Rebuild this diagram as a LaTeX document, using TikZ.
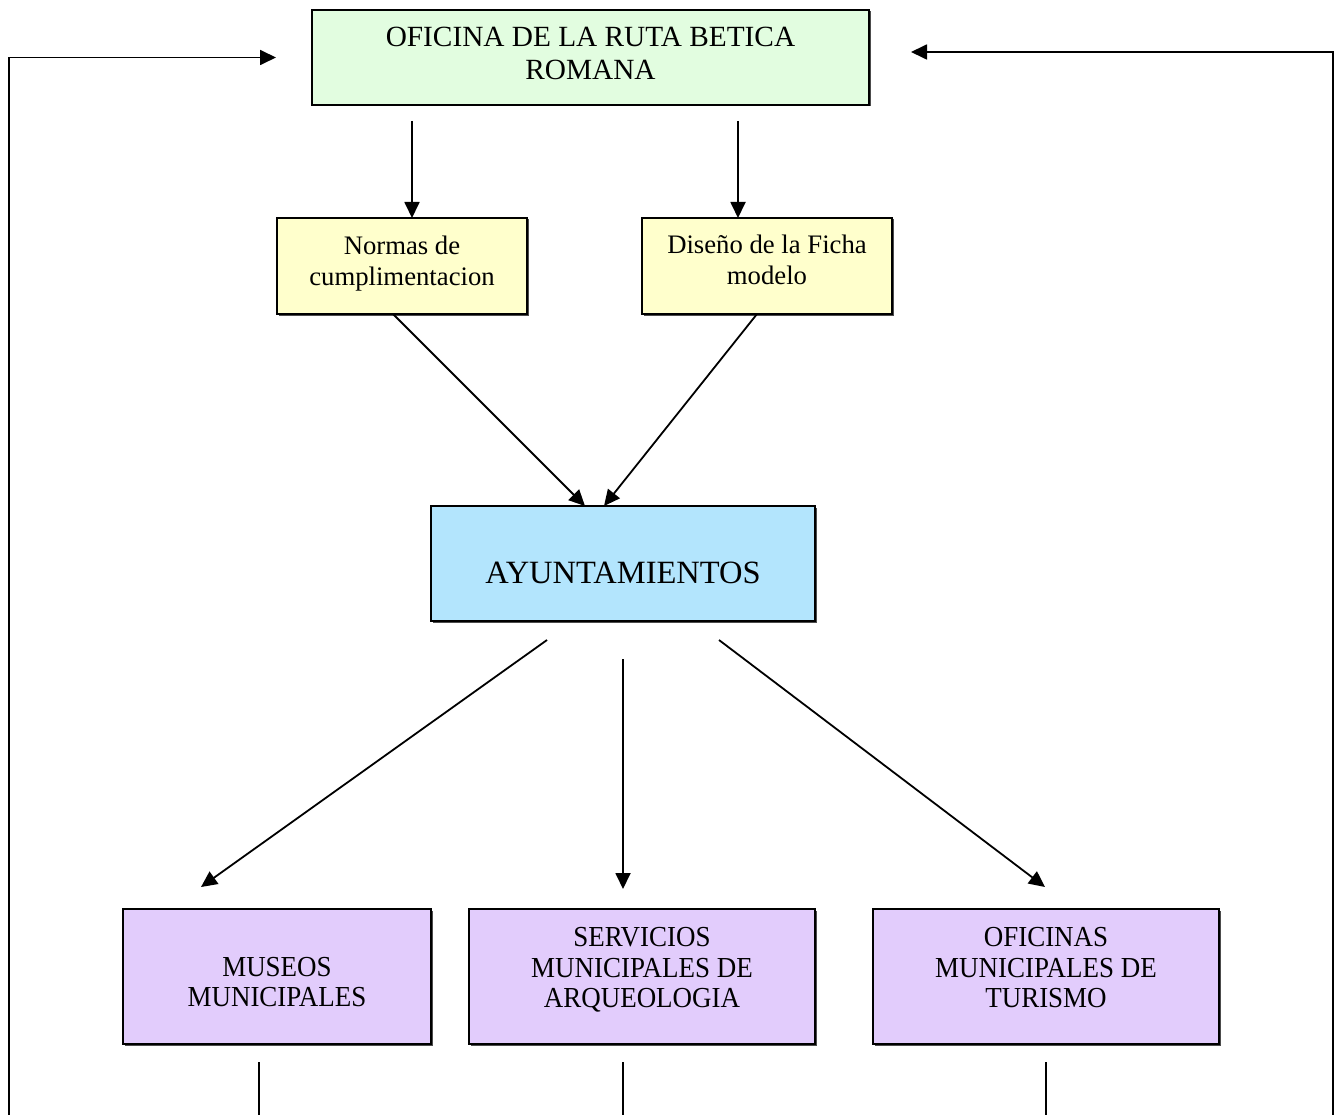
\documentclass[tikz,border=0pt]{standalone}
\usepackage{fontspec}
\setmainfont{Liberation Serif}
\newfontfamily\condserif[FakeStretch=0.93]{Liberation Serif}
\usetikzlibrary{arrows.meta,shadows}
\definecolor{topgreen}{RGB}{226,253,224}
\definecolor{boxyellow}{RGB}{255,255,204}
\definecolor{boxblue}{RGB}{179,229,253}
\definecolor{boxpurple}{RGB}{226,204,252}
\tikzset{
  box/.style={draw=black, line width=1.8pt, inner sep=0pt, outer sep=0pt,
    drop shadow={shadow xshift=1.5pt, shadow yshift=-1.5pt, fill=black!70, opacity=1}},
  txt/.style={align=center, inner sep=0pt},
  arr/.style={line width=1.8pt, -{Triangle[length=16pt,width=15pt]}},
  ln/.style={line width=1.8pt}
}
\begin{document}
\begin{tikzpicture}[x=1pt,y=-1pt]
\useasboundingbox (0,0) rectangle (1335,1115);
% boxes
\node[box, fill=topgreen, minimum width=557, minimum height=95] (top) at (590.5,57.5) {};
\node[txt, font=\fontsize{29.3}{33}\selectfont] (topt) at ([yshift=4]top.center) {OFICINA DE LA RUTA BETICA\\ROMANA};
\node[box, fill=boxyellow, minimum width=250, minimum height=96] (n1) at (402,266) {};
\node[txt, font=\fontsize{26.7}{31}\selectfont] (n1t) at ([yshift=2]n1.center) {Normas de\\cumplimentacion};
\node[box, fill=boxyellow, minimum width=250, minimum height=96] (n2) at (767,266) {};
\node[txt, font=\fontsize{26.7}{31}\selectfont] (n2t) at ([yshift=6]n2.center) {Diseño de la Ficha\\modelo};
\node[box, fill=boxblue, minimum width=384, minimum height=115] (ayu) at (623,563.5) {};
\node[txt, font=\fontsize{32.5}{36}\selectfont] (ayut) at ([yshift=-9.5]ayu.center) {AYUNTAMIENTOS};
\node[box, fill=boxpurple, minimum width=308, minimum height=135] (m1) at (277,976.5) {};
\node[txt, font=\condserif\fontsize{29}{30.5}\selectfont] (m1t) at ([yshift=-5.5]m1.center) {MUSEOS\\MUNICIPALES};
\node[box, fill=boxpurple, minimum width=346, minimum height=135] (m2) at (642,976.5) {};
\node[txt, font=\condserif\fontsize{29}{30.5}\selectfont] (m2t) at ([yshift=6.5]m2.center) {SERVICIOS\\MUNICIPALES DE\\ARQUEOLOGIA};
\node[box, fill=boxpurple, minimum width=346, minimum height=135] (m3) at (1046,976.5) {};
\node[txt, font=\condserif\fontsize{29}{30.5}\selectfont] (m3t) at ([yshift=8.5]m3.center) {OFICINAS\\MUNICIPALES DE\\TURISMO};
% arrows top -> yellow
\draw[arr] ([xshift=10,yshift=-16]n1.north |- top.south) -- ([xshift=10]n1.north);
\draw[arr] ([xshift=-29,yshift=-16]n2.north |- top.south) -- ([xshift=-29]n2.north);
% yellow -> ayuntamientos
\draw[arr] ([xshift=-9]n1.south) -- ([xshift=-38]ayu.north);
\draw[arr] ([xshift=-10]n2.south) -- ([xshift=-19]ayu.north);
% ayuntamientos -> purple
\draw[arr] ([xshift=-76,yshift=-19]ayu.south) -- ([xshift=-76,yshift=22]m1.north);
\draw[arr] ([yshift=-38]ayu.south) -- ([xshift=-19,yshift=20]m2.north);
\draw[arr] ([xshift=96,yshift=-19]ayu.south) -- ([xshift=-1,yshift=22]m3.north);
% bottom stubs
\coordinate (b1) at (259,1115);
\coordinate (b2) at (623,1115);
\coordinate (b3) at (1046,1115);
\draw[ln] ([yshift=-18]b1 |- m1.south) -- (b1);
\draw[ln] ([yshift=-18]b2 |- m2.south) -- (b2);
\draw[ln] ([yshift=-18]b3 |- m3.south) -- (b3);
% feedback loops
\coordinate (lb) at (9,1115);
\coordinate (rb) at (1333,1115);
\draw[arr] (lb) |- ([xshift=-36]top.west);
\draw[arr] (rb) |- ([xshift=42,yshift=5.5]top.east);
\end{tikzpicture}
\end{document}
